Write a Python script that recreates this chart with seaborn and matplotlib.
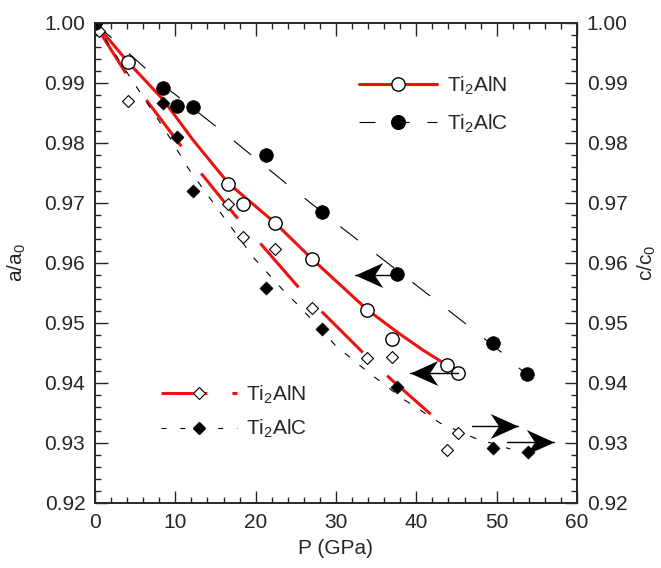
import matplotlib
matplotlib.use("Agg")
import matplotlib.pyplot as plt
import seaborn as sns
from matplotlib.lines import Line2D
from matplotlib.path import Path
from matplotlib.ticker import MultipleLocator, FormatStrFormatter

# Ti2AlN, a-axis (open circles)
p_aln_a = [4.1, 16.6, 18.4, 22.4, 27.0, 33.9, 37.0, 43.8, 45.2]
a_aln = [0.9935, 0.9732, 0.9698, 0.9667, 0.9607, 0.9522, 0.9473, 0.9430, 0.9417]
# Ti2AlC, a-axis (filled circles)
p_alc_a = [0.0, 8.5, 10.2, 12.2, 21.3, 28.3, 37.6, 49.6, 53.8]
a_alc = [1.0000, 0.9892, 0.9862, 0.9860, 0.9780, 0.9685, 0.9582, 0.9467, 0.9415]
# Ti2AlN, c-axis (open diamonds)
p_aln_c = [0.5, 4.1, 16.6, 18.4, 22.4, 27.0, 33.9, 37.0, 45.2, 43.8]
c_aln = [0.9987, 0.9870, 0.9698, 0.9643, 0.9623, 0.9525, 0.9442, 0.9443, 0.9317, 0.9288]
# Ti2AlC, c-axis (filled diamonds)
p_alc_c = [8.5, 10.2, 12.2, 21.3, 28.3, 37.6, 49.6, 53.9]
c_alc = [0.9867, 0.9810, 0.9720, 0.9558, 0.9490, 0.9393, 0.9292, 0.9285]

# fitted curves
fit_aln_a_p = [0.0, 4.1, 8.5, 12.2, 16.6, 22.4, 27.0, 33.9, 37.6, 40.8, 43.8]
fit_aln_a = [1.0000, 0.9935, 0.9872, 0.9805, 0.9733, 0.9667, 0.9607, 0.9522, 0.9485, 0.9455, 0.9430]
fit_aln_c_p = [0.0, 4.0, 6.2, 10.6, 13.0, 17.4, 20.3, 25.3, 28.3, 33.4, 36.7, 42.3]
fit_aln_c = [0.9998, 0.9913, 0.9875, 0.9797, 0.9753, 0.9680, 0.9637, 0.9560, 0.9518, 0.9450, 0.9408, 0.9342]
fit_alc_a_p = [0.0, 9.3, 15.6, 24.3, 30.8, 37.1, 42.0, 46.3, 50.7, 54.2]
fit_alc_a = [1.0000, 0.9888, 0.9822, 0.9727, 0.9658, 0.9593, 0.9542, 0.9497, 0.9450, 0.9408]
fit_alc_c_p = [0.0, 4.5, 8.8, 11.6, 14.9, 19.8, 23.4, 25.5, 29.9, 34.0, 38.5, 43.0, 47.3, 51.7]
fit_alc_c = [1.0000, 0.9907, 0.9820, 0.9758, 0.9697, 0.9608, 0.9555, 0.9527, 0.9463, 0.9418, 0.9372, 0.9333, 0.9308, 0.9290]

# arrows: tail P, tip P, value
arrow_left_tail = [37.6, 45.2]
arrow_left_tip = [32.4, 39.2]
arrow_left_y = [0.9580, 0.9416]
arrow_right_tail = [46.9, 51.3]
arrow_right_tip = [52.7, 57.1]
arrow_right_y = [0.9329, 0.9302]

RED = '#ee1111'
FS = 15

sns.set_style('ticks')
plt.rcParams['font.family'] = ['Liberation Sans', 'DejaVu Sans']
plt.rcParams['mathtext.fontset'] = 'custom'
plt.rcParams['mathtext.rm'] = 'Liberation Sans'
plt.rcParams['mathtext.it'] = 'Liberation Sans:italic'

fig = plt.figure(figsize=(6.61, 5.68), dpi=100)
ax = fig.add_axes([95 / 661, 1 - 503 / 568, 482 / 661, 480 / 568])

# curves
sns.lineplot(x=fit_aln_a_p, y=fit_aln_a, ax=ax, color=RED, linewidth=2.2, sort=False)
sns.lineplot(x=fit_aln_c_p, y=fit_aln_c, ax=ax, color=RED, linewidth=2.2, sort=False,
             linestyle=(0, (19, 11)))
sns.lineplot(x=fit_alc_a_p, y=fit_alc_a, ax=ax, color='black', linewidth=0.8, sort=False,
             linestyle=(0, (20, 21)))
sns.lineplot(x=fit_alc_c_p, y=fit_alc_c, ax=ax, color='black', linewidth=0.8, sort=False,
             linestyle=(0, (6, 11)))

# points
sns.scatterplot(x=p_aln_c, y=c_aln, ax=ax, marker='D', s=37, facecolor='white',
                edgecolor='black', linewidth=0.8, zorder=3)
sns.scatterplot(x=p_alc_c, y=c_alc, ax=ax, marker='D', s=44, color='black',
                edgecolor='black', linewidth=0.5, zorder=3)
sns.scatterplot(x=p_aln_a, y=a_aln, ax=ax, marker='o', s=92, facecolor='white',
                edgecolor='black', linewidth=1.0, zorder=4)
sns.scatterplot(x=p_alc_a, y=a_alc, ax=ax, marker='o', s=97, color='black',
                edgecolor='black', linewidth=0.5, zorder=4)

# arrows: thin shaft + concave head
head_r = Path([(0, 0), (-1, 0.45), (-0.7, 0), (-1, -0.45), (0, 0)],
              [Path.MOVETO, Path.LINETO, Path.LINETO, Path.LINETO, Path.CLOSEPOLY])
head_l = Path([(0, 0), (1, 0.45), (0.7, 0), (1, -0.45), (0, 0)],
              [Path.MOVETO, Path.LINETO, Path.LINETO, Path.LINETO, Path.CLOSEPOLY])
for tails, tips, ys, head in [(arrow_left_tail, arrow_left_tip, arrow_left_y, head_l),
                              (arrow_right_tail, arrow_right_tip, arrow_right_y, head_r)]:
    for t0, t1, yy in zip(tails, tips, ys):
        ax.plot([t0, t1], [yy, yy], color='black', lw=1.0, zorder=5)
    ax.scatter(tips, ys, marker=head, s=1600, color='black', linewidths=0, zorder=5)

ax.set_xlim(0, 60)
ax.set_ylim(0.92, 1.00)
ax.xaxis.set_major_locator(MultipleLocator(10))
ax.xaxis.set_minor_locator(MultipleLocator(2))
ax.yaxis.set_major_locator(MultipleLocator(0.01))
ax.yaxis.set_minor_locator(MultipleLocator(0.002))
ax.yaxis.set_major_formatter(FormatStrFormatter('%.2f'))
ax.tick_params(which='both', direction='in', top=True, right=False, labelsize=FS,
               width=1.0, pad=7)
ax.tick_params(which='major', length=9)
ax.tick_params(which='minor', length=4.5)
for sp in ax.spines.values():
    sp.set_linewidth(1.2)
    sp.set_visible(True)

ax2 = ax.twinx()
ax2.set_ylim(0.92, 1.00)
ax2.yaxis.set_major_locator(MultipleLocator(0.01))
ax2.yaxis.set_minor_locator(MultipleLocator(0.002))
ax2.yaxis.set_major_formatter(FormatStrFormatter('%.2f'))
ax2.tick_params(which='both', direction='in', labelsize=FS, width=1.0, pad=7)
ax2.tick_params(which='major', length=9)
ax2.tick_params(which='minor', length=4.5)
for sp in ax2.spines.values():
    sp.set_linewidth(1.2)

ax.set_xlabel('P (GPa)', fontsize=FS, labelpad=5)
ax.set_ylabel('a/a$_0$', fontsize=FS, labelpad=12)
ax2.set_ylabel('c/c$_0$', fontsize=FS, labelpad=6)

# legends
h_top = [
    Line2D([], [], color=RED, lw=2.2, marker='o', ms=9.6, mfc='white', mec='black', mew=1.0),
    Line2D([], [], color='black', lw=0.8, ls=(0, (14.4, 16.2)), marker='o', ms=9.8,
           mfc='black', mec='black'),
]
leg1 = ax.legend(h_top, ['Ti$_2$AlN', 'Ti$_2$AlC'], loc='upper left',
                 bbox_to_anchor=(0.548, 0.893), frameon=False, fontsize=FS,
                 handlelength=3.75, handletextpad=0.45, labelspacing=0.75,
                 borderpad=0, borderaxespad=0)
ax.add_artist(leg1)
h_bot = [
    Line2D([], [], color=RED, lw=2.2, ls=(0, (15, 8.2)), marker='D', ms=6.1,
           mfc='white', mec='black', mew=0.8),
    Line2D([], [], color='black', lw=0.8, ls=(0, (4.5, 12.5)), marker='D', ms=6.6,
           mfc='black', mec='black'),
]
ax.legend(h_bot, ['Ti$_2$AlN', 'Ti$_2$AlC'], loc='upper left',
          bbox_to_anchor=(0.137, 0.249), frameon=False, fontsize=FS,
          handlelength=3.65, handletextpad=0.45, labelspacing=0.58,
          borderpad=0, borderaxespad=0)

fig.savefig('out.png', dpi=100)
